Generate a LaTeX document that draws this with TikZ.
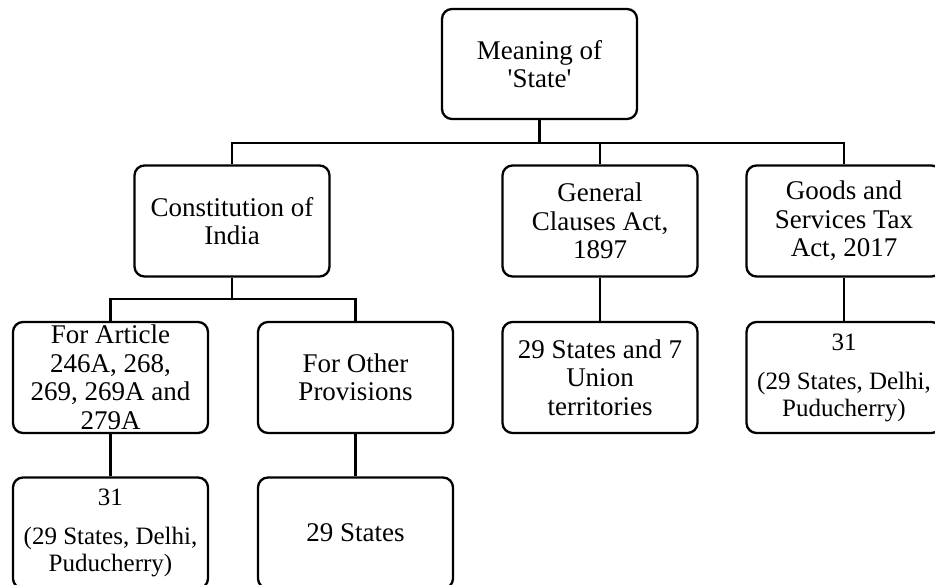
\documentclass[tikz,border=0pt]{standalone}
\usepackage{fontspec}
\setmainfont{Liberation Serif}
\begin{document}
\begin{tikzpicture}[x=1pt,y=-1pt,
  box/.style={draw=black,line width=2.3pt,rounded corners=10pt,
    minimum width=195pt,minimum height=111pt,inner sep=0pt,
    align=center,font=\fontsize{27}{28.5}\selectfont},
  smalltxt/.style={font=\fontsize{25}{27}\selectfont},
  conn/.style={draw=black,line width=2.3pt}]
\useasboundingbox (0,0) rectangle (935,585);
\clip (0,0) rectangle (935,585);
\fill[white] (0,0) rectangle (935,585);
% level 0
\node[box,minimum height=110pt] (top) at (539.5,64) {Meaning of\\ \textquotesingle State\textquotesingle};
% level 1
\node[box] (con) at (232,221) {Constitution of\\ India};
\node[box] (gen) at (600,221) {General\\ Clauses Act,\\ 1897};
\node[box] (gst) at (844,221) {Goods and\\ Services Tax\\ Act, 2017};
% level 2
\node[box] (art) at (110.5,377.5) {For Article\\ 246A, 268,\\ 269, 269A and\\ 279A};
\node[box] (oth) at (355.5,377.5) {For Other\\ Provisions};
\node[box] (gen2) at (600,377.5) {29 States and 7\\ Union\\ territories};
\node[box,smalltxt] (gst2) at (844,377.5) {31\\[12pt] (29 States, Delhi,\\ Puducherry)};
% level 3
\node[box,smalltxt] (art2) at (110.5,533) {31\\[12pt] (29 States, Delhi,\\ Puducherry)};
\node[box] (oth2) at (355.5,533) {29 States};
% junctions
\coordinate (j1) at (539.5,143);
\coordinate (j2) at (232,299);
% connectors
\draw[conn] (top.south) -- (j1);
\draw[conn] (con.north) |- (j1) -| (gst.north);
\draw[conn] (gen.north) -- (gen.north |- j1);
\draw[conn] (con.south) -- (j2);
\draw[conn] (art.north) |- (j2) -| (oth.north);
\draw[conn] (gen.south) -- (gen2.north);
\draw[conn] (gst.south) -- (gst2.north);
\draw[conn] (art.south) -- (art2.north);
\draw[conn] (oth.south) -- (oth2.north);
\end{tikzpicture}
\end{document}
